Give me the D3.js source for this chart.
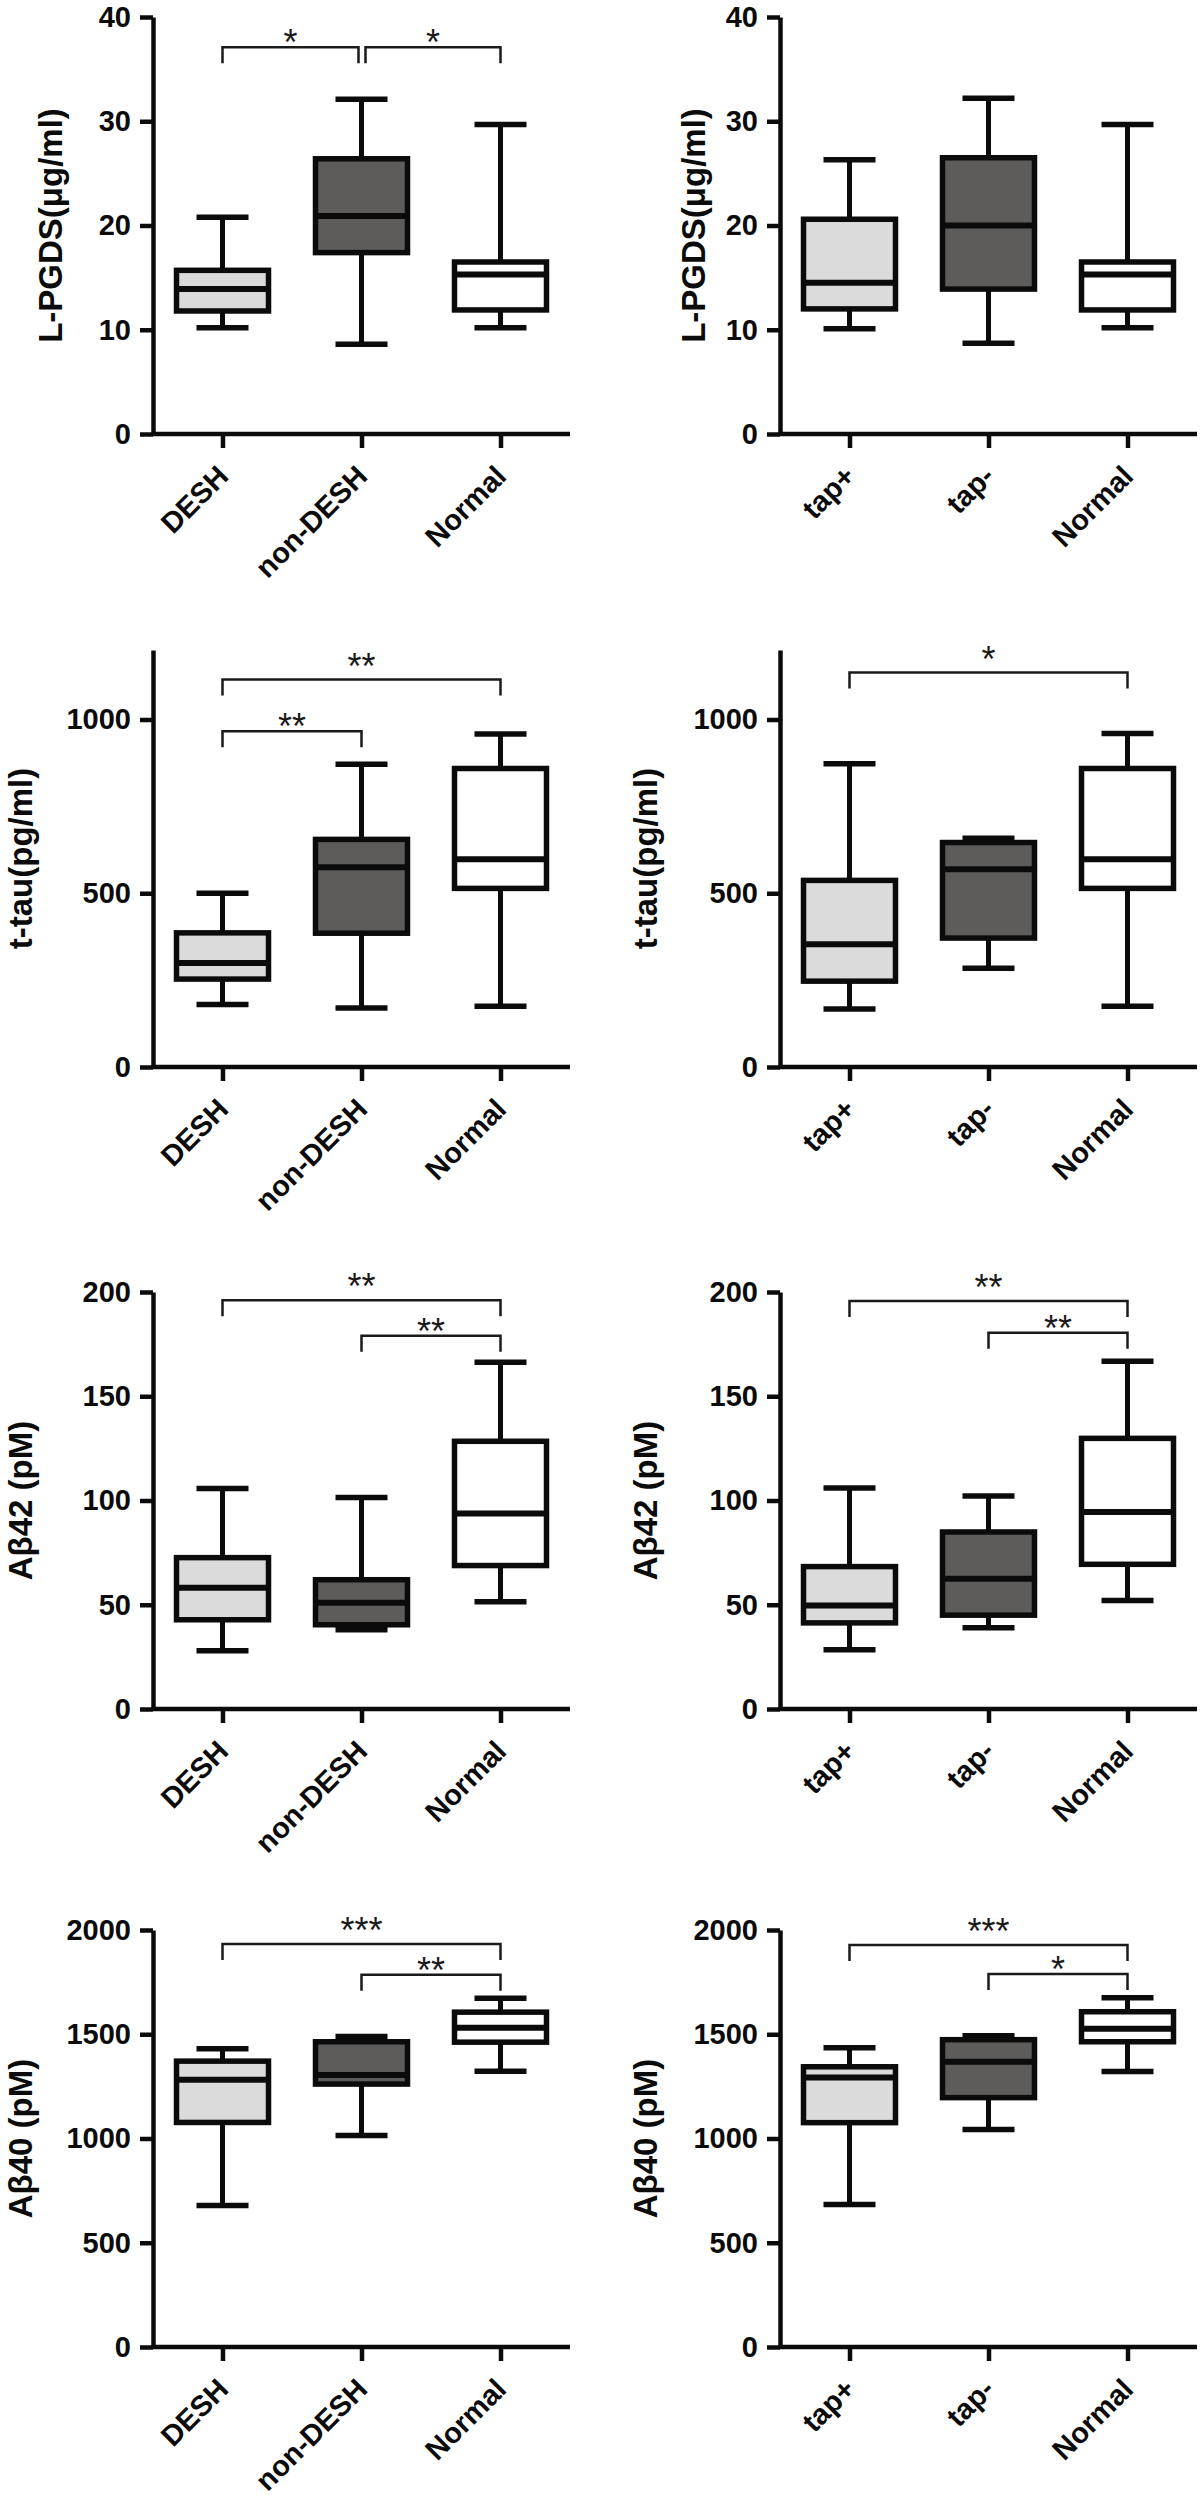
<!DOCTYPE html>
<html>
<head>
<meta charset="utf-8">
<script src="https://cdn.jsdelivr.net/npm/d3@7"></script>
<style>
  html, body { margin: 0; padding: 0; background: #ffffff; }
  svg { display: block; }
  text { font-family: "Liberation Sans", Arial, Helvetica, sans-serif; }
</style>
</head>
<body>
<svg id="chart" width="1200" height="2500"></svg>
<script>
// ---------------- DATA ----------------
const groupsA = ["DESH", "non-DESH", "Normal"];
const groupsB = ["tap+", "tap-", "Normal"];

// each box: [min, q1, median, q3, max]
const lpgdsA = [[10.2, 11.8, 13.9, 15.7, 20.8], [8.6, 17.4, 20.9, 26.4, 32.1], [10.2, 11.9, 15.3, 16.5, 29.7]];
const lpgdsB = [[10.1, 12.0, 14.5, 20.6, 26.3], [8.7, 13.9, 20.0, 26.5, 32.2], [10.2, 11.9, 15.3, 16.5, 29.7]];
const ttauA  = [[180, 253, 299, 386, 500], [170, 385, 575, 655, 871], [175, 514, 598, 859, 958]];
const ttauB  = [[167, 247, 353, 537, 873], [284, 371, 569, 646, 658], [175, 514, 598, 859, 960]];
const ab42A  = [[27.9, 42.8, 58.2, 72.6, 105.8], [38, 40.4, 51, 62, 101.4], [51.4, 68.8, 93.8, 128.4, 166.3]];
const ab42B  = [[28.4, 41.3, 49.6, 68.3, 106], [39, 45, 62.5, 84.9, 102.2], [52, 69.4, 94.5, 129.8, 166.8]];
const ab40A  = [[679, 1077, 1282, 1371, 1431], [1014, 1261, 1304, 1464, 1489], [1323, 1462, 1531, 1606, 1673]];
const ab40B  = [[684, 1076, 1292, 1344, 1435], [1043, 1196, 1368, 1474, 1493], [1321, 1464, 1526, 1608, 1675]];

const ticksLpgds = [0, 10, 20, 30, 40];
const ticksTtau  = [0, 500, 1000];
const ticksAb42  = [0, 50, 100, 150, 200];
const ticksAb40  = [0, 500, 1000, 1500, 2000];

const domLpgds = [0, 40];
const domTtau  = [0, 1200];
const domAb42  = [0, 200];
const domAb40  = [0, 2000];

const titleLpgds = "L-PGDS(\u03bcg/ml)";
const titleTtau  = "t-tau(pg/ml)";
const titleAb42  = "A\u03b242 (pM)";
const titleAb40  = "A\u03b240 (pM)";

// significance brackets: from/to are category indices, level in data units
const sigA1 = [{from: 0, to: 1, label: "*", level: 37.1}, {from: 1, to: 2, label: "*", level: 37.1}];
const sigB1 = [];
const sigA2 = [{from: 0, to: 2, label: "**", level: 1115}, {from: 0, to: 1, label: "**", level: 966}];
const sigB2 = [{from: 0, to: 2, label: "*", level: 1135}];
const sigA3 = [{from: 0, to: 2, label: "**", level: 196}, {from: 1, to: 2, label: "**", level: 179}];
const sigB3 = [{from: 0, to: 2, label: "**", level: 195.7}, {from: 1, to: 2, label: "**", level: 180.5}];
const sigA4 = [{from: 0, to: 2, label: "***", level: 1933}, {from: 1, to: 2, label: "**", level: 1785}];
const sigB4 = [{from: 0, to: 2, label: "***", level: 1928}, {from: 1, to: 2, label: "*", level: 1789}];

// ---------------- LAYOUT / STYLE ----------------
const fills = ["#dcdbdc", "#5d5c5a", "#ffffff"];
const ink = "#0b0b0b";
const colAxisX = [153, 780];
const rowBaseY = [434, 1067, 1709, 2347];
const plotW = 417, plotH = 417;
const titleOffset = [[91, 75], [121, 123], [121, 123], [121, 123]];

const panels = [
  {row: 0, col: 0, cats: groupsA, boxes: lpgdsA, dom: domLpgds, ticks: ticksLpgds, title: titleLpgds, sig: sigA1},
  {row: 0, col: 1, cats: groupsB, boxes: lpgdsB, dom: domLpgds, ticks: ticksLpgds, title: titleLpgds, sig: sigB1},
  {row: 1, col: 0, cats: groupsA, boxes: ttauA, dom: domTtau, ticks: ticksTtau, title: titleTtau, sig: sigA2},
  {row: 1, col: 1, cats: groupsB, boxes: ttauB, dom: domTtau, ticks: ticksTtau, title: titleTtau, sig: sigB2},
  {row: 2, col: 0, cats: groupsA, boxes: ab42A, dom: domAb42, ticks: ticksAb42, title: titleAb42, sig: sigA3},
  {row: 2, col: 1, cats: groupsB, boxes: ab42B, dom: domAb42, ticks: ticksAb42, title: titleAb42, sig: sigB3},
  {row: 3, col: 0, cats: groupsA, boxes: ab40A, dom: domAb40, ticks: ticksAb40, title: titleAb40, sig: sigA4},
  {row: 3, col: 1, cats: groupsB, boxes: ab40B, dom: domAb40, ticks: ticksAb40, title: titleAb40, sig: sigB4}
];

const svg = d3.select("#chart");

panels.forEach(p => {
  const ax = colAxisX[p.col];
  const y0 = rowBaseY[p.row];
  const g = svg.append("g");

  const x = d3.scalePoint().domain(p.cats).range([ax, ax + plotW]).padding(0.5);
  const y = d3.scaleLinear().domain(p.dom).range([y0, y0 - plotH]);

  // boxes
  const boxHalf = 46, capHalf = 26;
  p.boxes.forEach((b, i) => {
    const cx = x(p.cats[i]);
    const [mn, q1, md, q3, mx] = b;
    const bg = g.append("g");
    bg.append("line").attr("x1", cx).attr("x2", cx).attr("y1", y(q3)).attr("y2", y(mx))
      .attr("stroke", ink).attr("stroke-width", 5);
    bg.append("line").attr("x1", cx).attr("x2", cx).attr("y1", y(q1)).attr("y2", y(mn))
      .attr("stroke", ink).attr("stroke-width", 5);
    bg.append("line").attr("x1", cx - capHalf).attr("x2", cx + capHalf).attr("y1", y(mx)).attr("y2", y(mx))
      .attr("stroke", ink).attr("stroke-width", 5.5);
    bg.append("line").attr("x1", cx - capHalf).attr("x2", cx + capHalf).attr("y1", y(mn)).attr("y2", y(mn))
      .attr("stroke", ink).attr("stroke-width", 5.5);
    bg.append("rect").attr("x", cx - boxHalf).attr("width", boxHalf * 2)
      .attr("y", y(q3)).attr("height", y(q1) - y(q3))
      .attr("fill", fills[i]).attr("stroke", ink).attr("stroke-width", 5.5);
    bg.append("line").attr("x1", cx - boxHalf).attr("x2", cx + boxHalf).attr("y1", y(md)).attr("y2", y(md))
      .attr("stroke", ink).attr("stroke-width", 6);
  });

  // y axis
  const yAxis = d3.axisLeft(y).tickValues(p.ticks).tickSize(13).tickSizeOuter(0).tickPadding(9)
    .tickFormat(d3.format("d"));
  const yg = g.append("g").attr("transform", `translate(${ax},0)`).call(yAxis);
  yg.select(".domain").attr("stroke", ink).attr("stroke-width", 4.5);
  yg.selectAll(".tick line").attr("stroke", ink).attr("stroke-width", 4.5);
  yg.selectAll(".tick text").attr("font-size", 29).attr("font-weight", "bold").attr("fill", ink)
    .attr("font-family", "'Liberation Sans', Arial, sans-serif");

  // x axis
  const xAxis = d3.axisBottom(x).tickSize(14).tickSizeOuter(0);
  const xg = g.append("g").attr("transform", `translate(0,${y0})`).call(xAxis);
  xg.select(".domain").attr("stroke", ink).attr("stroke-width", 4.5)
    .attr("d", `M${ax},0H${ax + plotW}`);
  xg.selectAll(".tick line").attr("stroke", ink).attr("stroke-width", 4.5);
  xg.selectAll(".tick text")
    .attr("x", 0).attr("y", 0).attr("dy", null)
    .attr("text-anchor", "end")
    .attr("transform", "translate(7,44) rotate(-45)")
    .attr("font-size", 29).attr("font-weight", "bold").attr("fill", ink)
    .attr("font-family", "'Liberation Sans', Arial, sans-serif");

  // y title
  const tx = ax - titleOffset[p.row][p.col];
  const ty = y0 - plotH / 2;
  g.append("text").attr("transform", `translate(${tx},${ty}) rotate(-90)`)
    .attr("text-anchor", "middle").attr("font-size", 33).attr("font-weight", "bold")
    .attr("fill", ink).text(p.title);

  // significance brackets
  p.sig.forEach(s => {
    let x1 = x(p.cats[s.from]), x2 = x(p.cats[s.to]);
    p.sig.forEach(o => {
      if (o === s || o.level !== s.level) return;
      if (o.to === s.from) x1 += 4;
      if (o.from === s.to) x2 -= 3;
    });
    const by = y(s.level);
    const leg = 16;
    g.append("path")
      .attr("d", `M${x1},${by + leg}V${by}H${x2}V${by + leg}`)
      .attr("fill", "none").attr("stroke", "#1a1a1a").attr("stroke-width", 2.5);
    const gap = (s.to - s.from === 2) ? 22 : 13;
    g.append("text").attr("x", (x1 + x2) / 2).attr("y", by - gap + 21)
      .attr("text-anchor", "middle").attr("font-size", 36).attr("fill", "#1a1a1a")
      .text(s.label);
  });
});
</script>
</body>
</html>
